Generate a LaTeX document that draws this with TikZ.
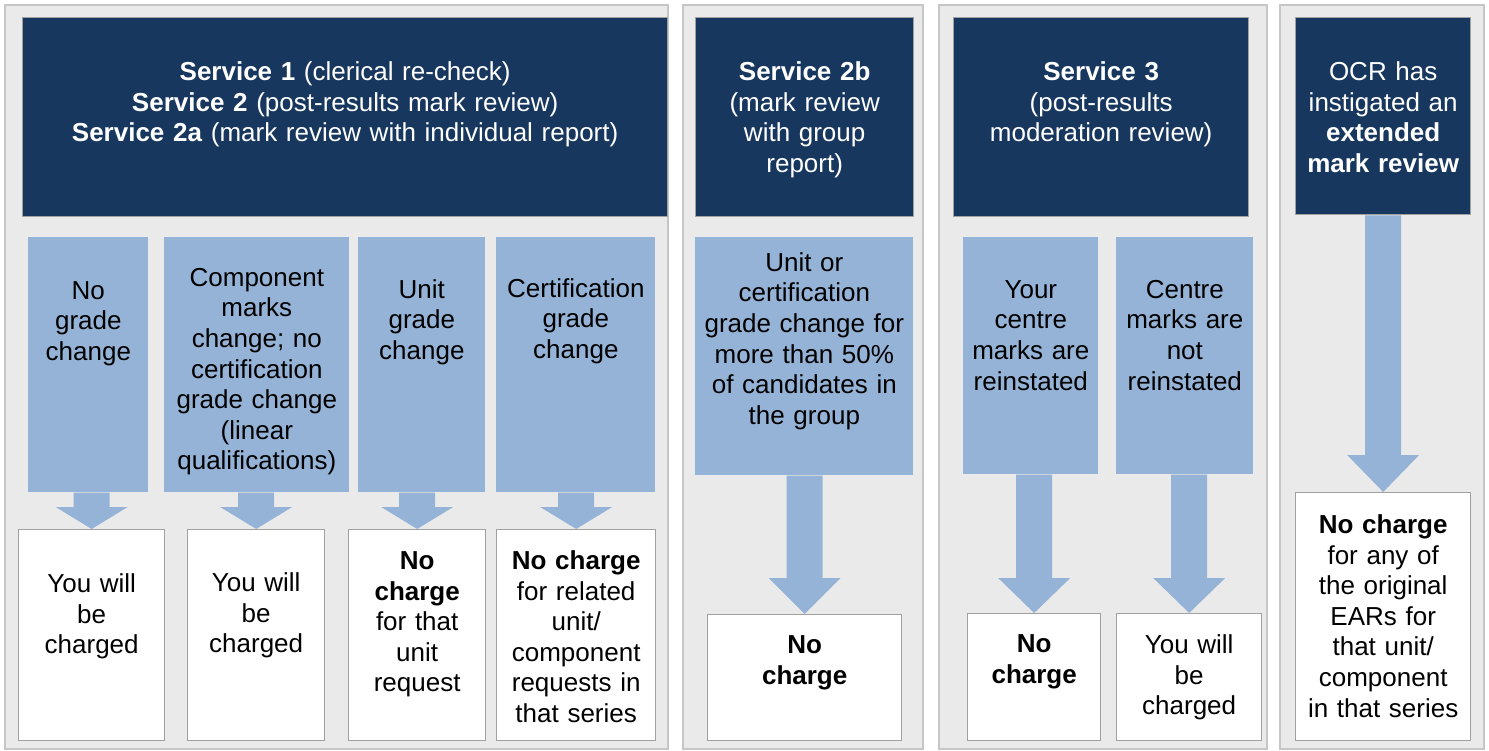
\documentclass[tikz,border=0pt]{standalone}
\usepackage{fontspec}
\setmainfont{Liberation Sans}
\usepackage{tikz}
\usetikzlibrary{calc}

\definecolor{navy}{HTML}{17375E}
\definecolor{lightblue}{HTML}{95B3D7}
\definecolor{panelgray}{HTML}{EAEAEA}
\definecolor{panelline}{HTML}{C6C6C6}
\definecolor{boxline}{HTML}{A0A0A0}

\tikzstyle{panel} = [fill=panelgray, 
draw=panelline, 
line width=0.8pt]
\tikzstyle{header} = [rectangle, 
anchor=north west, 
inner sep=0pt, 
align=center, 
draw=boxline, 
line width=0.8pt, 
fill=navy, 
text=white]
\tikzstyle{outcome} = [rectangle, 
anchor=north west, 
inner sep=0pt, 
align=center, 
fill=lightblue]
\tikzstyle{charge} = [rectangle, 
anchor=north west, 
inner sep=0pt, 
align=center, 
draw=boxline, 
line width=0.8pt, 
fill=white]
% width, top of box to first baseline, rest of the box
\tikzset{dims/.style n args={3}{text width=#1, text height=#2, text depth=#3}}

% block arrow: from, to, head length
\newcommand{\blockarrow}[3]{%
\fill[lightblue] let \p1=(#1.south), \p2=(#2.north) in
(\x2-0.36cm,\y1) -- (\x2-0.36cm,\y2+#3) -- (\x2-0.72cm,\y2+#3) -- (\x2,\y2)
-- (\x2+0.72cm,\y2+#3) -- (\x2+0.36cm,\y2+#3) -- (\x2+0.36cm,\y1) -- cycle;}

\begin{document}
\begin{tikzpicture}[x=0.02cm, y=-0.02cm, every node/.style={font=\fontsize{14.8}{17.4}\selectfont}]

\useasboundingbox (0,0) rectangle (1489,751);

\draw [panel] (5,5) rectangle (668,749);
\draw [panel] (683,5) rectangle (923,749);
\draw [panel] (939,5) rectangle (1267,749);
\draw [panel] (1280,5) rectangle (1484,749);

\node (svc1) [header, dims={12.9cm}{1.26cm}{2.72cm}] at (22,17) {\textbf{Service 1} (clerical re-check)\\\textbf{Service 2} (post-results mark review)\\\textbf{Service 2a} (mark review with individual report)};
\node (svc2b) [header, dims={4.36cm}{1.26cm}{2.72cm}] at (695,17) {\textbf{Service 2b}\\(mark review\\with group\\report)};
\node (svc3) [header, dims={5.9cm}{1.26cm}{2.72cm}] at (953,17) {\textbf{Service 3}\\(post-results\\moderation review)};
\node (ocr) [header, dims={3.5cm}{1.26cm}{2.68cm}] at (1295,17) {OCR has\\instigated an\\\textbf{extended}\\\textbf{mark review}};

\node (nograde) [outcome, dims={2.4cm}{1.24cm}{3.86cm}] at (28,237) {No\\grade\\change};
\node (compmarks) [outcome, dims={3.7cm}{0.98cm}{4.12cm}] at (164,237) {Component\\marks\\change; no\\certification\\grade change\\(linear\\qualifications)};
\node (unitgrade) [outcome, dims={2.54cm}{1.22cm}{3.88cm}] at (358,237) {Unit\\grade\\change};
\node (certgrade) [outcome, dims={3.18cm}{1.2cm}{3.9cm}] at (496,237) {Certification\\grade\\change};
\node (groupchange) [outcome, dims={4.36cm}{0.68cm}{4.08cm}] at (695,237) {Unit or\\certification\\grade change for\\more than 50\%\\of candidates in\\the group};
\node (reinstated) [outcome, dims={2.7cm}{1.22cm}{3.52cm}] at (963,237) {Your\\centre\\marks are\\reinstated};
\node (notreinstated) [outcome, dims={2.74cm}{1.22cm}{3.52cm}] at (1116,237) {Centre\\marks are\\not\\reinstated};

\node (charged1) [charge, dims={2.92cm}{1.26cm}{2.96cm}] at (18,529) {You will\\be\\charged};
\node (charged2) [charge, dims={2.74cm}{1.24cm}{2.98cm}] at (187,529) {You will\\be\\charged};
\node (nocharge1) [charge, dims={2.74cm}{0.8cm}{3.42cm}] at (348,529) {\textbf{No}\\\textbf{charge}\\for that\\unit\\request};
\node (nocharge2) [charge, dims={3.18cm}{0.8cm}{3.42cm}] at (496,529) {\textbf{No charge}\\for related\\unit/\\component\\requests in\\that series};
\node (nocharge3) [charge, dims={3.88cm}{0.78cm}{1.74cm}] at (707,614) {\textbf{No}\\\textbf{charge}};
\node (nocharge4) [charge, dims={2.66cm}{0.78cm}{1.76cm}] at (967,613) {\textbf{No}\\\textbf{charge}};
\node (charged3) [charge, dims={2.9cm}{0.8cm}{1.74cm}] at (1116,613) {You will\\be\\charged};
\node (nochargeall) [charge, dims={3.5cm}{0.82cm}{4.14cm}] at (1295,492) {\textbf{No charge}\\for any of\\the original\\EARs for\\that unit/\\component\\in that series};

\blockarrow{nograde}{charged1}{0.44cm}
\blockarrow{compmarks}{charged2}{0.44cm}
\blockarrow{unitgrade}{nocharge1}{0.44cm}
\blockarrow{certgrade}{nocharge2}{0.44cm}
\blockarrow{groupchange}{nocharge3}{0.72cm}
\blockarrow{reinstated}{nocharge4}{0.7cm}
\blockarrow{notreinstated}{charged3}{0.7cm}
\blockarrow{ocr}{nochargeall}{0.74cm}

\end{tikzpicture}
\end{document}
